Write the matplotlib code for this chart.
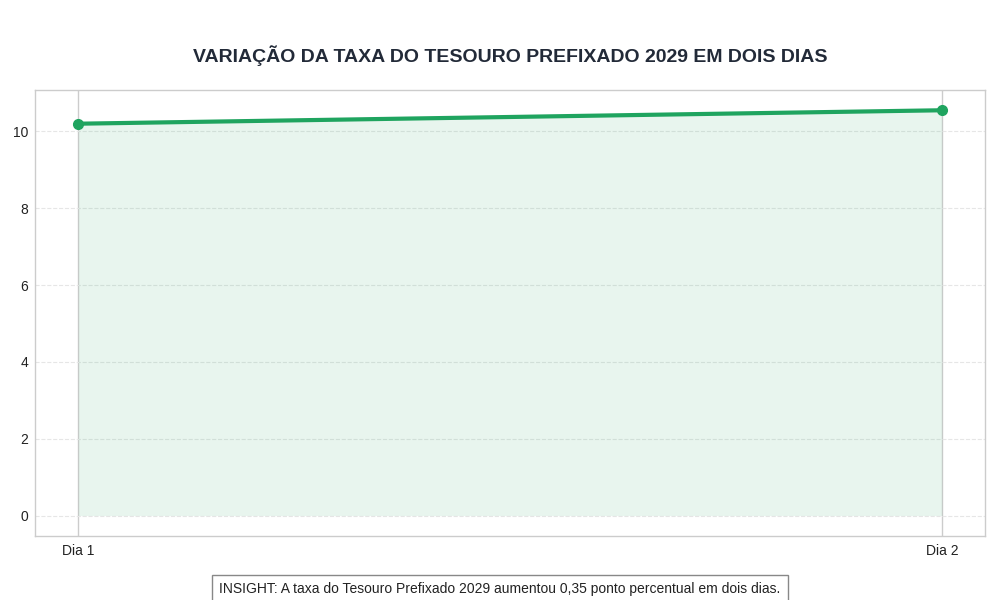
import matplotlib
matplotlib.use("Agg")
import matplotlib.pyplot as plt
import seaborn as sns

# data
dias = ["Dia 1", "Dia 2"]
taxa = [10.20, 10.55]

sns.set_style("whitegrid")
plt.rcParams['font.family'] = ['Liberation Sans', 'DejaVu Sans']

fig, ax = plt.subplots(figsize=(10, 6), dpi=100)
fig.subplots_adjust(left=0.035, right=0.985, top=0.85, bottom=0.107)

x = list(range(len(dias)))
green = '#1fa45f'
ax.plot(x, taxa, color=green, linewidth=3, marker='o', markersize=7, zorder=3)
ax.fill_between(x, taxa, color=green, alpha=0.1, linewidth=0)

ax.set_xticks(x)
ax.set_xticklabels(dias)
ax.tick_params(axis='both', labelsize=10, colors='#222222', length=0)
ax.tick_params(axis='y', pad=5)
ax.tick_params(axis='x', pad=6)

ax.grid(axis='x', color='#cccccc', linestyle='-', linewidth=1)
ax.grid(axis='y', color='#e6e6e6', linestyle='--', linewidth=0.8)
for s in ax.spines.values():
    s.set_color('#cccccc')
    s.set_linewidth(1)

ax.set_title("VARIAÇÃO DA TAXA DO TESOURO PREFIXADO 2029 EM DOIS DIAS",
             fontsize=14, fontweight='bold', color='#222a38', pad=20)

fig.text(0.5, 0.018,
         "INSIGHT: A taxa do Tesouro Prefixado 2029 aumentou 0,35 ponto percentual em dois dias.",
         ha='center', va='center', fontsize=10, color='#222222',
         bbox=dict(facecolor='white', edgecolor='#888888', boxstyle='square,pad=0.5'))

fig.savefig("out.png", dpi=100, facecolor='white')
